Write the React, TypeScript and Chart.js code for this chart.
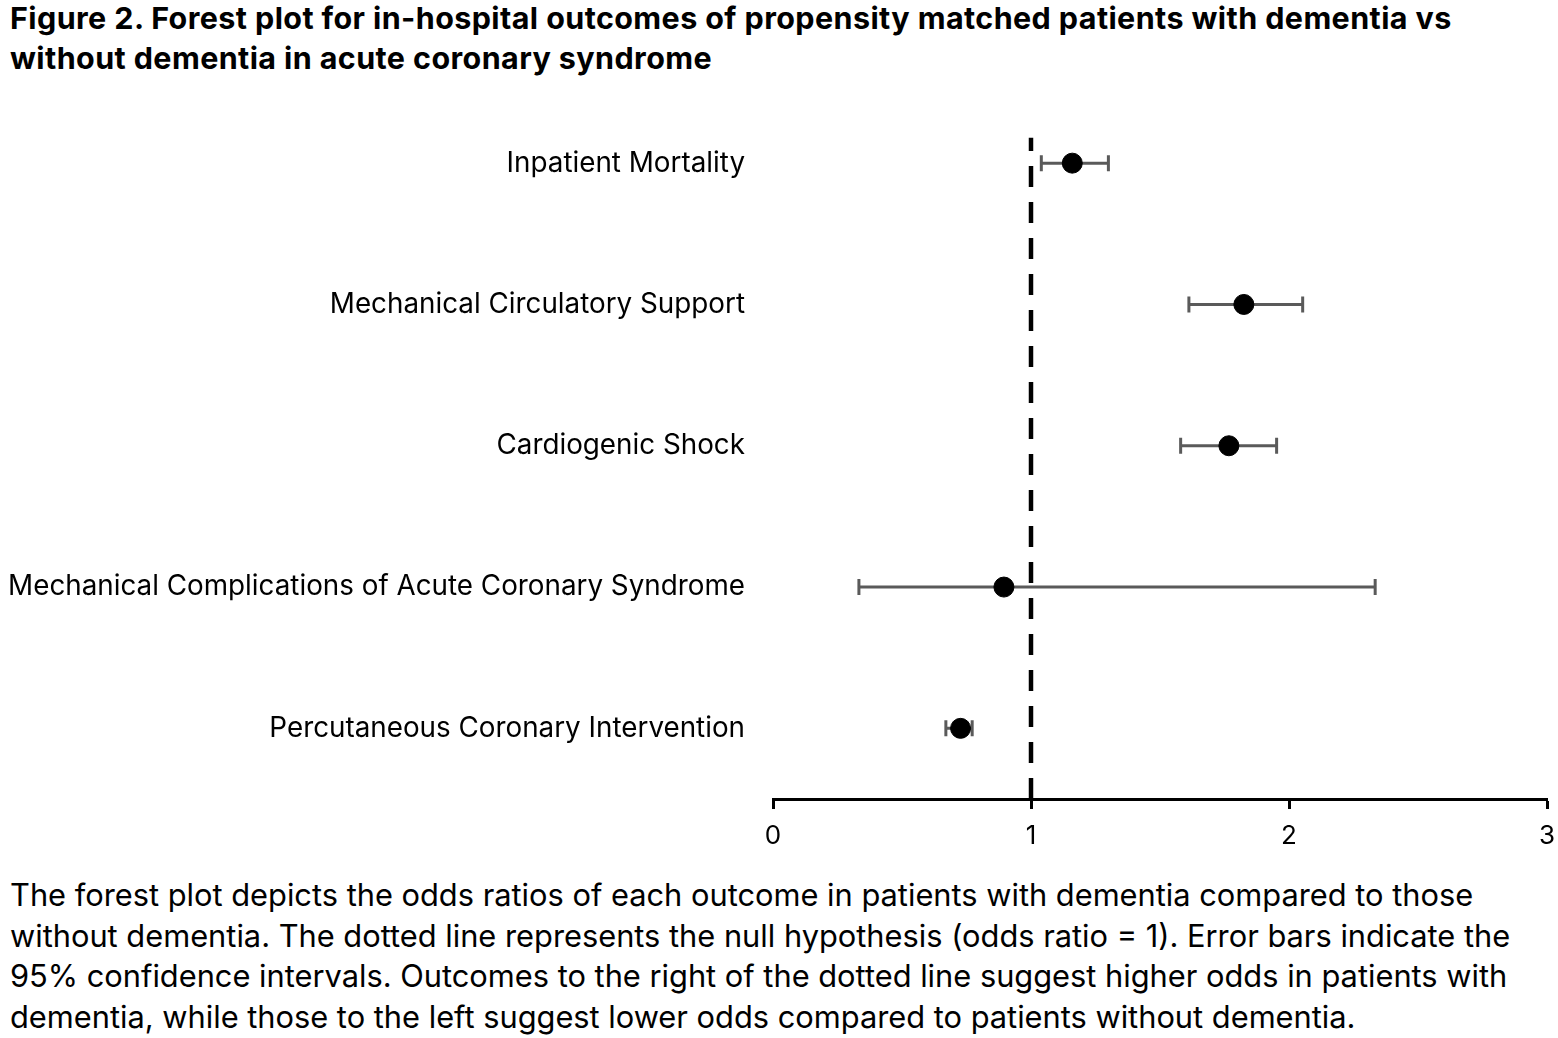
import React, { useEffect, useRef } from "react";
import { Chart, registerables } from "chart.js";

Chart.register(...registerables);

const outcomes = [
  "Inpatient Mortality",
  "Mechanical Circulatory Support",
  "Cardiogenic Shock",
  "Mechanical Complications of Acute Coronary Syndrome",
  "Percutaneous Coronary Intervention",
];
const rowPositions = [5, 4, 3, 2, 1];
const oddsRatios = [1.16, 1.825, 1.767, 0.895, 0.727];
const ciLower = [1.04, 1.612, 1.58, 0.333, 0.67];
const ciUpper = [1.3, 2.053, 1.952, 2.334, 0.772];
const xTicks = [0, 1, 2, 3];
const nullValue = 1;
const nullLineSpan = [0.5, 5.18];

const FONT = "Inter, 'Open Sans', sans-serif";

const titleLines = [
  "Figure 2. Forest plot for in-hospital outcomes of propensity matched patients with dementia vs",
  "without dementia in acute coronary syndrome",
];
const captionLines = [
  "The forest plot depicts the odds ratios of each outcome in patients with dementia compared to those",
  "without dementia. The dotted line represents the null hypothesis (odds ratio = 1). Error bars indicate the",
  "95% confidence intervals. Outcomes to the right of the dotted line suggest higher odds in patients with",
  "dementia, while those to the left suggest lower odds compared to patients without dementia.",
];

const CANVAS_TOP = 48;
const CANVAS_H = 822;
const PLOT_LEFT = 773;
const PLOT_TOP = 92.5;
const PLOT_BOTTOM = 799;

export default function App() {
  const ref = useRef<HTMLCanvasElement | null>(null);

  useEffect(() => {
    if (!ref.current) return;
    const errorSets = outcomes.map((name, i) => ({
      type: "line" as const,
      label: name + " CI",
      data: [
        { x: ciLower[i], y: rowPositions[i] },
        { x: ciUpper[i], y: rowPositions[i] },
      ],
      borderColor: "#5a5a5a",
      borderWidth: 3,
      pointStyle: "line" as const,
      rotation: 90,
      pointRadius: 8,
      pointBorderColor: "#5a5a5a",
      pointBorderWidth: 3,
      order: 1,
    }));
    const chart = new Chart(ref.current, {
      type: "scatter",
      data: {
        datasets: [
          {
            type: "scatter",
            label: "Odds ratio",
            data: oddsRatios.map((v, i) => ({ x: v, y: rowPositions[i] })),
            backgroundColor: "#000",
            borderColor: "#000",
            pointRadius: 10,
            order: 0,
          },
          ...errorSets,
          {
            type: "line",
            label: "Null",
            data: [
              { x: nullValue, y: nullLineSpan[0] },
              { x: nullValue, y: nullLineSpan[1] },
            ],
            borderColor: "#000",
            borderWidth: 4.5,
            borderDash: [21, 15],
            pointRadius: 0,
            order: 2,
          },
        ] as any,
      },
      options: {
        animation: false,
        responsive: false,
        maintainAspectRatio: false,
        layout: { padding: { top: PLOT_TOP - CANVAS_TOP, right: 10, left: 0, bottom: 0 } },
        plugins: {
          legend: { display: false },
          tooltip: { enabled: false },
        },
        scales: {
          x: {
            type: "linear",
            min: 0,
            max: 3,
            afterBuildTicks: (s: any) => {
              s.ticks = xTicks.map((v) => ({ value: v }));
            },
            afterFit: (s: any) => {
              s.height = CANVAS_TOP + CANVAS_H - PLOT_BOTTOM;
              s.paddingLeft = 0;
              s.paddingRight = 0;
            },
            border: { display: true, color: "#000", width: 3 },
            grid: {
              drawOnChartArea: false,
              drawTicks: true,
              tickLength: 10,
              tickWidth: 3,
              color: "#000",
            },
            ticks: {
              color: "#000",
              font: { family: FONT, size: 26 },
              padding: 12,
              maxRotation: 0,
            },
          },
          y: {
            type: "linear",
            min: 0.5,
            max: 5.5,
            afterBuildTicks: (s: any) => {
              s.ticks = rowPositions.map((v) => ({ value: v }));
            },
            afterFit: (s: any) => {
              s.width = PLOT_LEFT;
              s.paddingTop = 0;
              s.paddingBottom = 0;
            },
            border: { display: false },
            grid: { display: false },
            ticks: {
              color: "#000",
              font: { family: FONT, size: 27.8 },
              padding: 20,
              callback: (v: any) => {
                const idx = rowPositions.indexOf(Number(v));
                return idx >= 0 ? outcomes[idx] : "";
              },
            },
          },
        },
      },
    });
    return () => chart.destroy();
  }, []);

  return (
    <div
      style={{
        position: "absolute",
        left: 0,
        top: 0,
        width: 1558,
        height: 1038,
        background: "#fff",
        fontFamily: FONT,
        color: "#000",
      }}
    >
      <div
        style={{
          position: "absolute",
          left: 10,
          top: -2,
          fontWeight: 700,
          fontSize: 30.5,
          letterSpacing: 0.4,
          lineHeight: "40px",
          whiteSpace: "nowrap",
        }}
      >
        {titleLines.map((l, i) => (
          <div key={i}>{l}</div>
        ))}
      </div>
      <canvas
        ref={ref}
        width={1558}
        height={CANVAS_H}
        style={{ position: "absolute", left: 0, top: CANVAS_TOP, width: 1558, height: CANVAS_H }}
      />
      <div
        style={{
          position: "absolute",
          left: 10,
          top: 875,
          fontSize: 30.8,
          lineHeight: "40.6px",
          whiteSpace: "nowrap",
        }}
      >
        {captionLines.map((l, i) => (
          <div key={i}>{l}</div>
        ))}
      </div>
    </div>
  );
}
